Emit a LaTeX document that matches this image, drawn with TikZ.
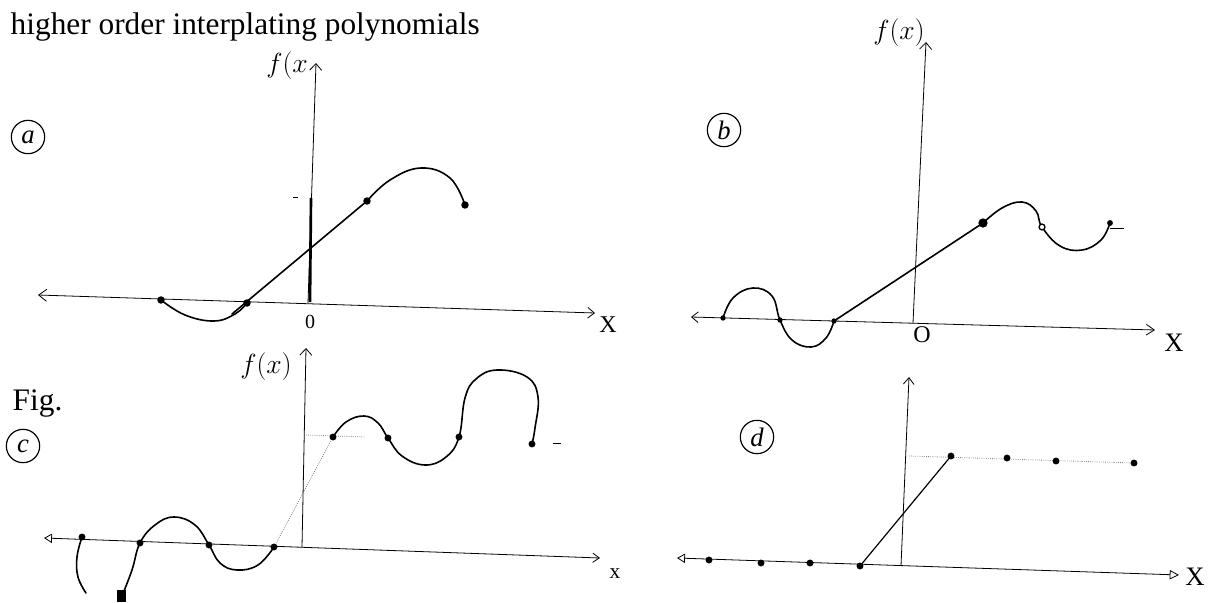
\documentclass[tikz,border=0pt]{standalone}
\usepackage{fontspec}
\setmainfont{Liberation Serif}
\usetikzlibrary{arrows.meta}

\begin{document}
\begin{tikzpicture}[x=0.75pt,y=-0.75pt,
    axis/.style={line width=0.6pt},
    curve/.style={line width=1.2pt, line cap=round},
    hint/.style={gray, densely dotted, line width=0.6pt},
    tag/.style={circle, draw, line width=0.9pt, minimum size=25pt, inner sep=0pt, font=\fontsize{20}{20}\selectfont\itshape},
    hand/.style={font=\fontsize{21}{21}\selectfont}
]
    \useasboundingbox (0,0) rectangle (1222,603);

    \node[anchor=base west, font=\fontsize{23.5}{28}\selectfont] (title) at (6,35) {higher order interplating polynomials};
    \node[anchor=base west, font=\fontsize{23.5}{28}\selectfont] (fig) at (8,410) {Fig.};

    % (a)
    \node[tag] (taga) at (28,137) {a};
    \node[hand] (fxa) at (287,66) {$f(x$};
    \draw[axis, {Straight Barb[length=6pt,width=9pt]}-{Straight Barb[length=5pt,width=8pt]}] (38,295) -- (595,313);
    \draw[axis, -{Straight Barb[length=5pt,width=9pt]}] (308,303) -- (316,63);
    \draw[line width=2pt] (310,302) -- (311,198);
    \draw[axis] (293,197) -- (298,197);
    \node[font=\fontsize{15}{15}\selectfont] (oa) at (310,322) {0};
    \node[font=\fontsize{18}{18}\selectfont] (xa) at (608,325) {X};
    \coordinate (a1) at (161,300);
    \coordinate (a2) at (247,303);
    \coordinate (a3) at (367,201);
    \coordinate (a4) at (465,205);
    \draw[curve] plot[smooth, tension=0.7] coordinates {(a1) (185,315) (214,321) (235,314) (a2)};
    \draw[curve] (232,314) -- (a3);
    \draw[curve] plot[smooth, tension=0.7] coordinates {(a3) (390,180) (421,168) (450,178) (a4)};
    \foreach \p in {a1,a2,a3,a4}
        \fill (\p) circle (2.8pt);

    % (b)
    \node[tag] (tagb) at (724,130) {b};
    \node[hand] (fxb) at (899,33) {$f(x)$};
    \draw[axis, {Straight Barb[length=5pt,width=8pt]}-{Straight Barb[length=6pt,width=8pt]}] (691,317) -- (1155,330);
    \draw[axis, -{Straight Barb[length=5pt,width=9pt]}] (913,323) -- (926,42);
    \node[font=\fontsize{18}{18}\selectfont] (ob) at (922,335) {O};
    \node[font=\fontsize{20}{20}\selectfont] (xb) at (1174,343) {X};
    \coordinate (b1) at (723,318);
    \coordinate (b2) at (780,320);
    \coordinate (b3) at (834,321);
    \coordinate (b4) at (983,223);
    \coordinate (b5) at (1042,227);
    \coordinate (b6) at (1110,223);
    \draw[curve] plot[smooth, tension=0.7] coordinates {(b1) (733,298) (753,288) (772,296) (b2) (792,340) (811,347) (826,338) (b3)};
    \draw[curve] (b3) -- (b4);
    \draw[curve] plot[smooth, tension=0.7] coordinates {(b4) (1002,208) (1022,202) (1036,211) (b5) (1060,246) (1082,250) (1101,240) (b6)};
    \draw[axis] (1110,228) -- (1124,228);
    \foreach \p in {b1,b2,b3}
        \fill (\p) circle (2pt);
    \fill (b4) circle (3.5pt);
    \draw[line width=1pt, fill=white] (b5) circle (2.2pt);
    \fill (b6) circle (2.2pt);

    % (c)
    \node[tag] (tagc) at (23,446) {c};
    \node[hand] (fxc) at (266,367) {$f(x)$};
    \draw[axis, {Triangle[open,length=6pt,width=7pt]}-{Straight Barb[length=5pt,width=7pt]}] (44,538) -- (600,558);
    \draw[axis, -{Straight Barb[length=5pt,width=9pt]}] (302,547) -- (306,348);
    \node[font=\fontsize{16}{16}\selectfont] (xc) at (615,574) {x};
    \coordinate (c1) at (82,537);
    \coordinate (c2) at (140,543);
    \coordinate (c3) at (209,545);
    \coordinate (c4) at (274,547);
    \coordinate (c5) at (333,437);
    \coordinate (c6) at (388,438);
    \coordinate (c7) at (459,437);
    \coordinate (c8) at (532,444);
    \draw[curve] plot[smooth, tension=0.7] coordinates {(c1) (77,557) (78,577) (86,593)};
    \draw[curve] plot[smooth, tension=0.7] coordinates {(122,596) (132,570) (c2) (155,525) (174,517) (195,525) (c3) (220,563) (237,570) (258,565) (c4)};
    \fill (117,590) rectangle (126,602);
    \draw[hint] (c4) -- (c5);
    \draw[hint] (306,435) -- (365,437);
    \draw[curve] plot[smooth, tension=0.7] coordinates {(c5) (346,422) (364,416) (378,423) (c6) (402,456) (425,465) (446,457) (c7) (465,398) (476,379) (497,370) (527,377) (538,397) (535,428) (c8)};
    \draw[axis] (553,443) -- (561,443);
    \foreach \p in {c1,c2,c3,c4,c5,c6,c7,c8}
        \fill (\p) circle (2.6pt);

    % (d)
    \node[tag] (tagd) at (757,437) {d};
    \draw[axis, {Triangle[open,length=6pt,width=7pt]}-{Triangle[open,length=7pt,width=7pt]}] (677,558) -- (1179,575);
    \draw[axis, -{Straight Barb[length=5pt,width=8pt]}] (901,566) -- (909,377);
    \node[font=\fontsize{20}{20}\selectfont] (xd) at (1195,577) {X};
    \coordinate (d1) at (709,560);
    \coordinate (d2) at (761,563);
    \coordinate (d3) at (810,563);
    \coordinate (d4) at (860,566);
    \coordinate (d5) at (951,456);
    \coordinate (d6) at (1007,458);
    \coordinate (d7) at (1056,461);
    \coordinate (d8) at (1134,463);
    \draw[curve, line width=0.9pt] (d4) -- (d5);
    \draw[hint] (909,456) -- (d8);
    \foreach \p in {d1,d2,d3,d4,d5,d6,d7,d8}
        \fill (\p) circle (2.6pt);
\end{tikzpicture}
\end{document}
